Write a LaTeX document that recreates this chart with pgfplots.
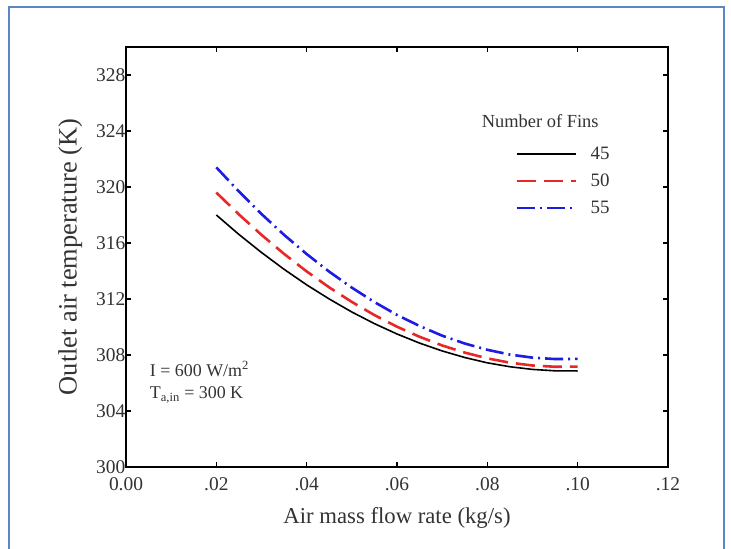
\documentclass[border=0pt]{standalone}
\usepackage{fontspec}
\setmainfont{Liberation Serif}
\usepackage{pgfplots}
\pgfplotsset{compat=1.18}
\definecolor{framec}{RGB}{91,135,196}
\definecolor{myred}{RGB}{232,40,40}
\definecolor{myblue}{RGB}{28,28,228}
\begin{document}
\begin{tikzpicture}[x=1bp,y=1bp]
\useasboundingbox (0,0) rectangle (731,549);
\fill[white] (0,0) rectangle (731,549);
\draw[framec, line width=2bp] (9,0) -- (9,542) -- (724,542) -- (724,0);
\begin{axis}[
  at={(126bp,82bp)}, anchor=south west, scale only axis,
  width=542bp, height=420bp,
  xmin=0, xmax=0.12, ymin=300, ymax=330,
  xtick={0,0.02,0.04,0.06,0.08,0.10,0.12},
  xticklabels={0.00,.02,.04,.06,.08,.10,.12},
  ytick={300,304,308,312,316,320,324,328},
  /pgf/number format/assume math mode=true,
  tick align=inside, major tick length=5bp,
  axis line style={line width=1.5bp},
  every tick/.style={black, line width=1.1bp},
  tick label style={font=\fontsize{19.5}{21}\selectfont, text=black!80},
  yticklabel style={inner sep=0.5pt},
  xticklabel style={inner sep=0pt, yshift=-10bp},
  xlabel={Air mass flow rate (kg/s)},
  ylabel={Outlet air temperature (K)},
  xlabel style={font=\fontsize{22.8}{25}\selectfont, text=black!80, at={(axis description cs:0.5,-0.121)}, anchor=center},
  ylabel style={font=\fontsize{26.5}{28}\selectfont, text=black!80, at={(axis description cs:-0.103,0.5)}, anchor=center},
  legend style={at={(axis cs:0.0855,323.2)}, anchor=north west, draw=none, fill=none,
    font=\fontsize{19}{21}\selectfont, text=black!80,
    nodes={text height=13bp, text depth=2bp, inner sep=2bp},
    row sep=8bp},
  legend cell align=left,
  legend image code/.code={\draw[#1] (0bp,0bp) -- (59bp,0bp); \path[draw=none] (0bp,0bp) -- (72bp,0bp);},
]
\addplot[black, line width=1.6bp] coordinates {
(0.020,318.00) (0.025,316.61) (0.030,315.32) (0.035,314.12) (0.040,313.01)
(0.045,312.00) (0.050,311.07) (0.055,310.24) (0.060,309.50) (0.065,308.85)
(0.070,308.29) (0.075,307.82) (0.080,307.44) (0.085,307.16) (0.090,306.97)
(0.095,306.87) (0.100,306.86)};
\addlegendentry{45}
\addplot[myred, line width=2.6bp, dash pattern=on 19bp off 8bp] coordinates {
(0.020,319.60) (0.025,318.04) (0.030,316.58) (0.035,315.22) (0.040,313.97)
(0.045,312.83) (0.050,311.79) (0.055,310.85) (0.060,310.02) (0.065,309.30)
(0.070,308.68) (0.075,308.17) (0.080,307.76) (0.085,307.45) (0.090,307.25)
(0.095,307.16) (0.100,307.17)};
\addlegendentry{50}
\addplot[myblue, line width=2.6bp, dash pattern=on 18bp off 5bp on 2bp off 5bp] coordinates {
(0.020,321.40) (0.025,319.68) (0.030,318.07) (0.035,316.58) (0.040,315.21)
(0.045,313.95) (0.050,312.81) (0.055,311.78) (0.060,310.86) (0.065,310.07)
(0.070,309.38) (0.075,308.82) (0.080,308.37) (0.085,308.03) (0.090,307.81)
(0.095,307.71) (0.100,307.72)};
\addlegendentry{55}
\node[font=\fontsize{18.5}{20}\selectfont, text=black!80] at (axis cs:0.0917,324.7) {Number of Fins};
\node[anchor=west, font=\fontsize{18}{20}\selectfont, text=black!80] at (axis cs:0.0045,307.0) {I = 600 W/m\textsuperscript{2}};
\node[anchor=west, font=\fontsize{18}{20}\selectfont, text=black!80] at (axis cs:0.0045,305.15) {T\textsubscript{a,in} = 300 K};
\end{axis}
\end{tikzpicture}
\end{document}
